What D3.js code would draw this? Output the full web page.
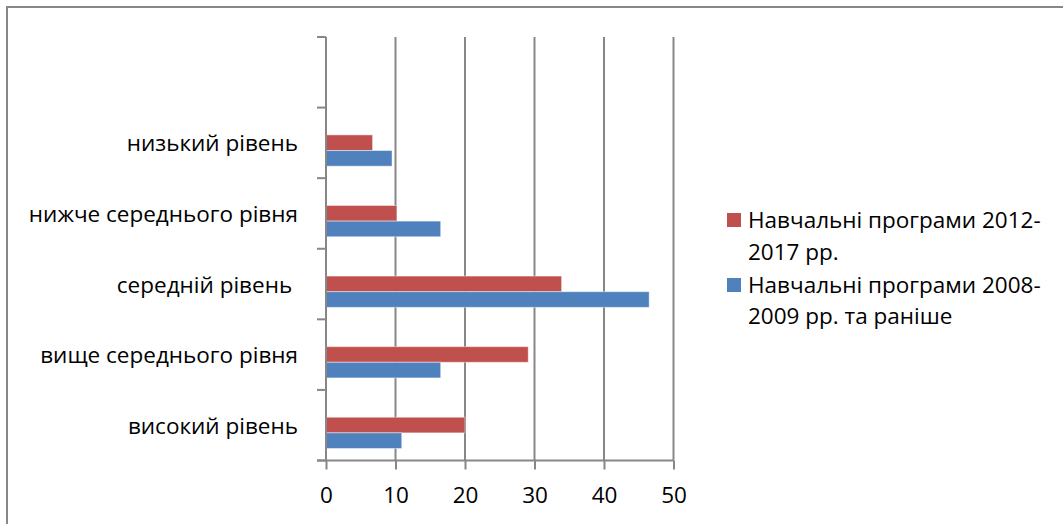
<!DOCTYPE html>
<html>
<head>
<meta charset="utf-8">
<script src="https://cdn.jsdelivr.net/npm/d3@7/dist/d3.min.js"></script>
<style>
  html, body { margin: 0; padding: 0; background: #fff; }
  svg { display: block; }
  text { font-family: "Open Sans", "Noto Sans", sans-serif; fill: #000; white-space: pre; }
</style>
</head>
<body>
<svg id="chart" width="1063" height="524"></svg>
<script>
// ---- data ----
const categories = ["", "низький рівень", "нижче середнього рівня", "середній рівень ", "вище середнього рівня", "високий рівень"];
const seriesNames = ["Навчальні програми 2012-2017 рр.", "Навчальні програми 2008-2009 рр. та раніше"];
const series2012 = [null, 6.7, 10.2, 33.9, 29.1, 20.0];
const series2008 = [null, 9.5, 16.5, 46.5, 16.5, 10.9];
const xTicks = [0, 10, 20, 30, 40, 50];
const legendLines = [["Навчальні програми 2012-", "2017 рр."], ["Навчальні програми 2008-", "2009 рр. та раніше"]];
const colors = ["#C0504D", "#4F81BD"];

const svg = d3.select("#chart");
const grid = "#878787";
const fs = 22.5;

// outer border
svg.append("rect").attr("x", 7).attr("y", 7).attr("width", 1200).attr("height", 700)
  .attr("fill", "none").attr("stroke", grid).attr("stroke-width", 2);

const x = d3.scaleLinear().domain([0, 50]).range([326, 673.5]);
const y = d3.scaleBand().domain(categories).range([37, 460.5]).paddingInner(0).paddingOuter(0);
const bw = y.bandwidth();
const yInner = d3.scaleBand().domain([0, 1]).range([0.387 * bw, 0.83 * bw]);

// gridlines
svg.append("g").selectAll("line").data(xTicks.slice(1)).join("line")
  .attr("x1", d => x(d)).attr("x2", d => x(d))
  .attr("y1", 37).attr("y2", 460.5)
  .attr("stroke", grid).attr("stroke-width", 2);

// bars
const rows = categories.map((c, i) => ({ c, vals: [series2012[i], series2008[i]] }));
const gBars = svg.append("g");
rows.forEach(r => {
  r.vals.forEach((v, s) => {
    if (v == null) return;
    gBars.append("rect")
      .attr("x", x(0)).attr("y", y(r.c) + yInner(s))
      .attr("width", x(v) - x(0)).attr("height", yInner.bandwidth())
      .attr("fill", colors[s])
      .attr("stroke", "rgba(255,255,255,0.45)").attr("stroke-width", 1);
  });
});

// y axis
const yAxisG = svg.append("g");
yAxisG.append("line").attr("x1", 326).attr("x2", 326).attr("y1", 37).attr("y2", 460.5)
  .attr("stroke", grid).attr("stroke-width", 2);
const yTickPos = categories.map(c => y(c)).concat([y(categories[categories.length - 1]) + bw]);
yAxisG.selectAll("line.t").data(yTickPos).join("line").attr("class", "t")
  .attr("x1", 317).attr("x2", 326).attr("y1", d => d).attr("y2", d => d)
  .attr("stroke", grid).attr("stroke-width", 2);
yAxisG.selectAll("text").data(categories).join("text")
  .attr("x", 298).attr("y", d => y(d) + bw / 2 + 8.5)
  .attr("text-anchor", "end").attr("font-size", fs)
  .text(d => d);

// x axis
const xAxis = d3.axisBottom(x).tickValues(xTicks).tickSize(9).tickPadding(17.5).tickFormat(d3.format("d"));
const xg = svg.append("g").attr("transform", "translate(0,460.5)").call(xAxis);
xg.select(".domain").attr("d", "M317,0H673.5").attr("stroke", grid).attr("stroke-width", 2);
xg.selectAll(".tick line").attr("stroke", grid).attr("stroke-width", 2);
xg.selectAll(".tick text").attr("font-size", fs).attr("fill", "#000")
  .attr("font-family", "'Open Sans', 'Noto Sans', sans-serif");

// legend
const lg = svg.append("g");
const legendBaselines = [[228, 260], [293, 324]];
legendLines.forEach((lines, i) => {
  lg.append("rect").attr("x", 727).attr("y", legendBaselines[i][0] - 15)
    .attr("width", 14).attr("height", 14).attr("fill", colors[i]);
  lines.forEach((t, j) => {
    lg.append("text").attr("x", 748).attr("y", legendBaselines[i][j])
      .attr("font-size", fs).text(t);
  });
});
</script>
</body>
</html>
